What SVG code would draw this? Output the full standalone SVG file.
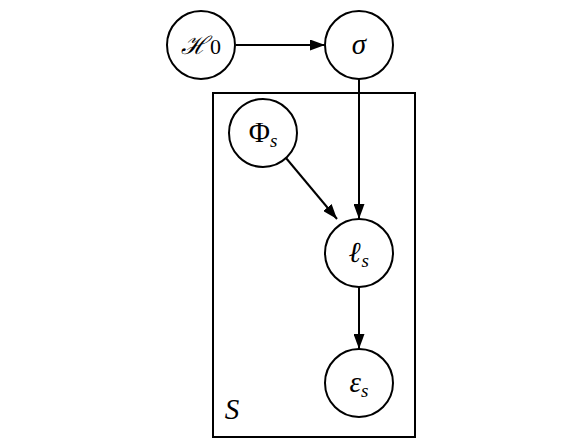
<svg xmlns="http://www.w3.org/2000/svg" width="581" height="448" viewBox="0 0 581 448">
<defs>
<marker id="ah" viewBox="0 0 15 11" refX="15" refY="5.5" markerWidth="15" markerHeight="11" markerUnits="userSpaceOnUse" orient="auto">
<path d="M0,0 L15,5.5 L0,11 Z" fill="#000"/>
</marker>
<style>
.n{fill:#fff;stroke:#000;stroke-width:2}
.e{stroke:#000;stroke-width:2;fill:none;marker-end:url(#ah)}
.t{font-family:"Liberation Serif","DejaVu Serif",serif;font-size:29px;fill:#000;text-anchor:middle}
.i{font-style:italic}
.sub{font-size:19px;font-style:italic;font-weight:normal}
</style>
</defs>
<rect id="plate" x="213" y="93" width="202" height="344" fill="none" stroke="#000" stroke-width="2"/>
<text class="t i" x="232" y="419" style="font-size:29px">S</text>
<g id="connectors">
<line class="e" x1="236" y1="45" x2="325" y2="45"/>
<line class="e" x1="359" y1="79" x2="359" y2="219"/>
<line class="e" x1="286" y1="158" x2="337" y2="219"/>
<line class="e" x1="359" y1="287" x2="359" y2="349"/>
</g>
<g id="H0">
<circle class="n" cx="201" cy="45" r="34"/>
<text class="t" x="201" y="54"><tspan style="font-family:'DejaVu Serif',serif;font-style:italic;font-size:25px">ℋ</tspan><tspan dx="3" style="font-size:22px">0</tspan></text>
</g>
<g id="sigma">
<circle class="n" cx="359" cy="45" r="34"/>
<text class="t i" x="359" y="54">σ</text>
</g>
<g id="Phi">
<circle class="n" cx="263" cy="133" r="34"/>
<text class="t" x="263" y="142">Φ<tspan class="sub" dy="5">s</tspan></text>
</g>
<g id="ell">
<circle class="n" cx="359" cy="253" r="34"/>
<text class="t i" x="359" y="262" style="font-weight:bold">ℓ<tspan class="sub" dy="5">s</tspan></text>
</g>
<g id="eps">
<circle class="n" cx="359" cy="383" r="34"/>
<text class="t i" x="359" y="392">ε<tspan class="sub" dy="5">s</tspan></text>
</g>
</svg>
